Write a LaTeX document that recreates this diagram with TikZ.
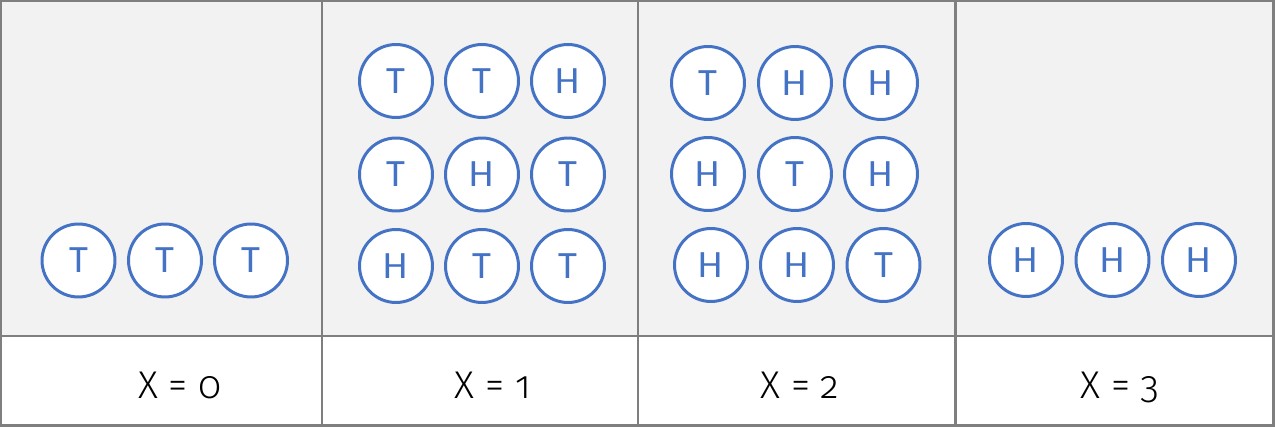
\documentclass[tikz,border=0pt]{standalone}
\usepackage{fontspec}
\setmainfont{Carlito}
\newfontfamily\labfont[Numbers=OldStyle]{Fira Sans Light}
\usetikzlibrary{positioning}
\definecolor{coinblue}{HTML}{4472C4}
\definecolor{cellgray}{HTML}{F2F2F2}
\definecolor{rulegray}{HTML}{7F7F7F}
\tikzset{ coin/.style={circle, draw=coinblue, line width=1.7pt, fill=white,
            minimum size=1.46cm, inner sep=0pt, text=coinblue,
            font=\fontsize{22}{22}\selectfont},
          xlab/.style={anchor=base, font=\labfont\fontsize{22}{22}\selectfont},
          grid/.style={draw=rulegray, line width=1.7pt}}

\begin{document}
\begin{tikzpicture}[x=0.02cm,y=-0.02cm]

\useasboundingbox (0,0) rectangle (1275,431);
\fill[cellgray] (1,1) rectangle (1273,336);
\fill[white] (1,336) rectangle (1273,425);
\draw[grid] (1,1) rectangle (1273,425.5);
\draw[grid] (1,336) -- (1273,336);
\foreach \x in {322,638,955} %column rules
  \draw[grid] (\x,1) -- (\x,425.5);

\foreach \x/\y/\i in {78.5/260.5/T, 165/260.5/T, 251/260.5/T} %X=0
  \node[coin] (c0-\x) at (\x,\y) {\i};
\foreach \x/\y/\i in {396/81/T, 482/81/T, 568/81/H,
                      396/174.5/T, 482/174.5/H, 568/174.5/T,
                      396/266/H, 482/266/T, 568/266/T} %X=1
  \node[coin] (c1-\x-\y) at (\x,\y) {\i};
\foreach \x/\y/\i in {708/83/T, 795/83/H, 881/83/H,
                      708/174/H, 795/174/T, 881/174/H,
                      711/265/H, 797/265/H, 883.5/265/T} %X=2
  \node[coin] (c2-\x-\y) at (\x,\y) {\i};
\foreach \x/\y/\i in {1026/260/H, 1112.5/260/H, 1199/260/H} %X=3
  \node[coin] (c3-\x) at (\x,\y) {\i};

\foreach \x/\i in {180/0, 493/1, 800/2, 1120/3} %labels
  \node[xlab] (lab\i) at (\x,399) {X = \i};

\end{tikzpicture}
\end{document}
